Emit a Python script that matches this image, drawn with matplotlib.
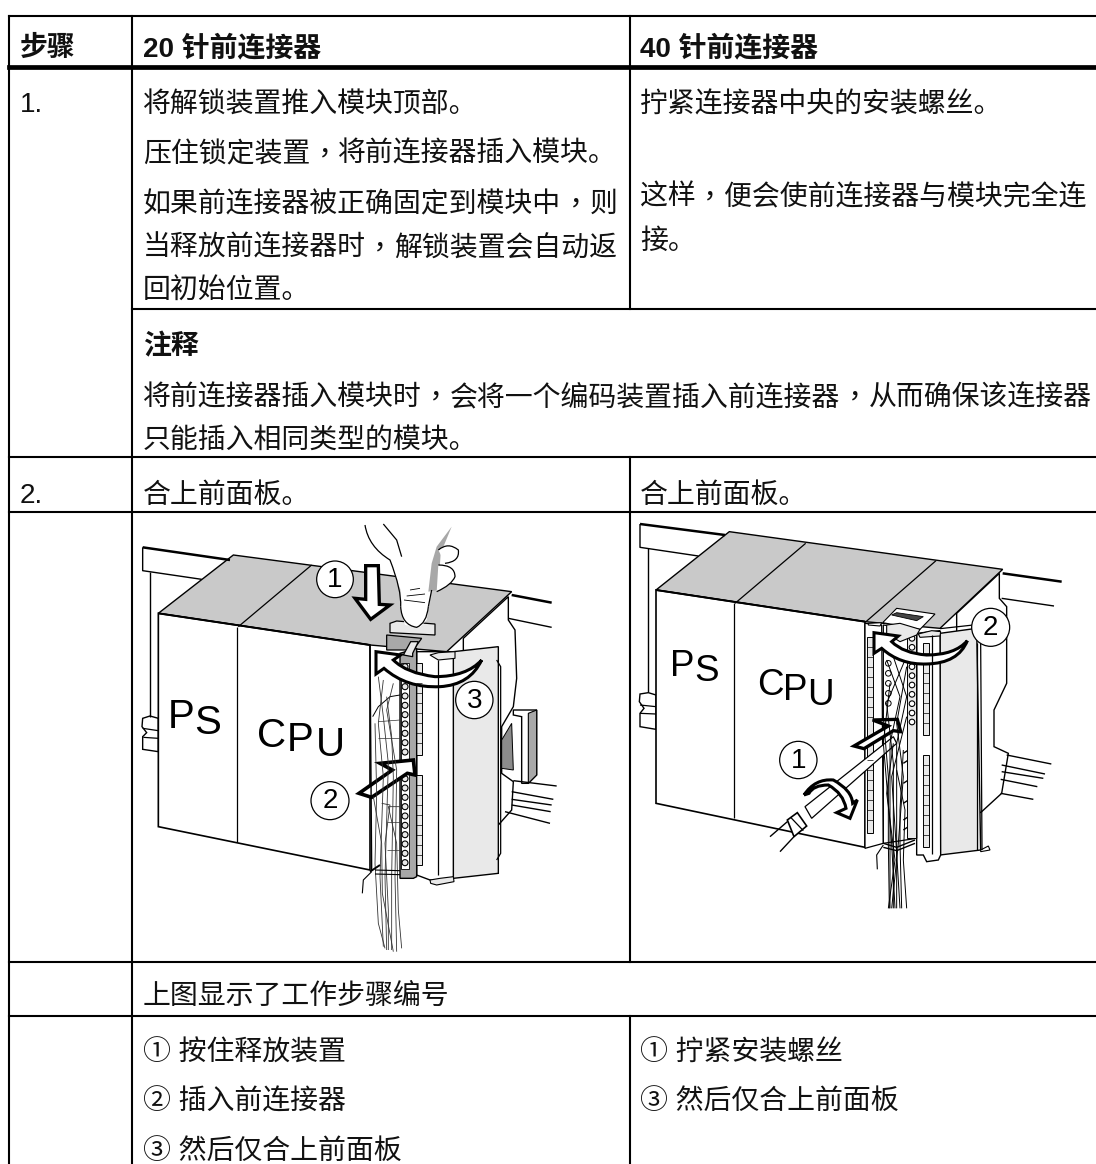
import matplotlib
matplotlib.use("Agg")
import matplotlib.pyplot as plt
from matplotlib.patches import Polygon, Circle, PathPatch
from matplotlib.path import Path

plt.rcParams['font.family'] = ['Liberation Sans', 'Noto Sans CJK SC', 'DejaVu Sans']

# table grid (pixels of the page)
col_x = [9, 132, 630]
top_y = 16
head_y = 66.5
row_full = [457, 512, 962, 1016]
row_note = 309

# table text: x, baseline, text
header = [(20, 56, "步骤"), (143, 56, "20 针前连接器"), (640, 56, "40 针前连接器")]
col0_text = [(20, 112, "1."), (20, 503, "2.")]
col1_text = [
    (143, 112, "将解锁装置推入模块顶部。"),
    (143, 162, "压住锁定装置，将前连接器插入模块。"),
    (143, 212, "如果前连接器被正确固定到模块中，则"),
    (143, 256, "当释放前连接器时，解锁装置会自动返"),
    (143, 299, "回初始位置。"),
    (143, 405, "将前连接器插入模块时，会将一个编码装置插入前连接器，从而确保该连接器"),
    (143, 448, "只能插入相同类型的模块。"),
    (143, 503, "合上前面板。"),
    (143, 1004, "上图显示了工作步骤编号"),
    (143, 1061, "① 按住释放装置"),
    (143, 1109, "② 插入前连接器"),
    (143, 1159, "③ 然后仅合上前面板"),
]
col2_text = [
    (640, 112, "拧紧连接器中央的安装螺丝。"),
    (640, 205, "这样，便会使前连接器与模块完全连"),
    (640, 249, "接。"),
    (640, 503, "合上前面板。"),
    (640, 1061, "① 拧紧安装螺丝"),
    (640, 1109, "③ 然后仅合上前面板"),
]
note_title = (143, 354, "注释")

GRAY = '#c9c9c9'
LIGHT = '#e9e9e9'
MID = '#a8a8a8'
FS = 20.1

fig = plt.figure(figsize=(10.96, 11.64), dpi=100)
ax = fig.add_axes([0, 0, 1, 1])
ax.set_xlim(0, 1096)
ax.set_ylim(1164, 0)
ax.axis('off')


def put(x, y, s, bold=False):
    w = 'bold' if bold else 'normal'
    em = FS * 100 / 72
    parts = s.split("，")
    for i, p in enumerate(parts):
        ax.text(x, y, p, fontsize=FS, fontweight=w, va='baseline', color='#111111')
        x += len(p) * em
        if i < len(parts) - 1:
            # the source uses a centred full-width comma
            ax.text(x, y, "，", fontsize=FS, va='baseline', color='#111111',
                    family=['Noto Sans CJK TC'])
            x += em


for x, y, s in header:
    put(x, y, s, True)
put(*note_title, True)
for x, y, s in col0_text + col1_text + col2_text:
    put(x, y, s)

# grid
ax.plot([col_x[0], 1096], [top_y, top_y], color='k', lw=1.5)
ax.plot([col_x[0], 1096], [head_y, head_y], color='k', lw=3.4)
for y in row_full:
    ax.plot([col_x[0], 1096], [y, y], color='k', lw=1.5)
ax.plot([col_x[1], 1096], [row_note, row_note], color='k', lw=1.5)
ax.plot([col_x[0], col_x[0]], [top_y, 1164], color='k', lw=1.5)
ax.plot([col_x[1], col_x[1]], [top_y, 1164], color='k', lw=1.5)
ax.plot([col_x[2], col_x[2]], [top_y, row_note], color='k', lw=1.5)
ax.plot([col_x[2], col_x[2]], [row_full[0], row_full[2]], color='k', lw=1.5)
ax.plot([col_x[2], col_x[2]], [row_full[3], 1164], color='k', lw=1.5)


class Sketch:

    def __init__(self, ox, oy):
        self.ox, self.oy = ox, oy

    def xy(self, pts):
        return [(self.ox + a / 3, self.oy + b / 3) for a, b in pts]

    def poly(self, pts, fc='white', lw=1.0, ec='k'):
        ax.add_patch(Polygon(self.xy(pts), closed=True, fc=fc, ec=ec, lw=lw, joinstyle='miter'))

    def line(self, pts, lw=0.9, color='k'):
        p = self.xy(pts)
        ax.plot([q[0] for q in p], [q[1] for q in p], color=color, lw=lw, solid_capstyle='butt')

    def curve(self, pts, codes, fc='white', lw=2.2):
        verts = self.xy(pts)
        ax.add_patch(PathPatch(Path(verts, codes), fc=fc, ec='k', lw=lw, joinstyle='miter'))

    def circle(self, c, r, fc='white', lw=0.9):
        ax.add_patch(Circle(self.xy([c])[0], r / 3, fc=fc, ec='k', lw=lw, zorder=6))

    def label(self, c, s, size=20):
        p = self.xy([c])[0]
        ax.text(p[0], p[1], s, fontsize=size, ha='center', va='center', color='k', zorder=7)

    def letter(self, c, s, size):
        # c is the left end of the glyph on its baseline
        p = self.xy([c])[0]
        ax.text(p[0], p[1], s, fontsize=size, ha='left', va='baseline', color='k', zorder=7)


M, C3, C4 = Path.MOVETO, Path.CURVE3, Path.LINETO

# ---------- left picture ----------
a = Sketch(130, 510)
a.line([(38, 112), (300, 150)], 1.8)
a.line([(38, 112), (38, 182), (215, 208)], 1.0)
a.line([(60, 185), (60, 620)], 1.0)
a.line([(1145, 255), (1265, 278)], 1.8)
a.line([(1135, 325), (1265, 352)], 1.0)
a.line([(1150, 812), (1280, 828)], 1.0)
a.line([(1145, 845), (1270, 868)], 1.0)
a.line([(1145, 868), (1265, 885)], 1.0)
a.line([(1145, 885), (1262, 905)], 1.0)
a.line([(1125, 905), (1260, 940)], 1.0)
a.poly([(38, 625), (60, 618), (85, 625), (85, 725), (38, 718), (38, 680), (50, 668), (36, 650)])
a.line([(38, 655), (85, 662)], 0.9)
a.line([(40, 682), (85, 685)], 0.9)
a.poly([(85, 310), (310, 135), (1145, 245), (950, 425), (720, 405)], fc=GRAY, lw=1.0)
a.line([(325, 350), (545, 165)], 0.9)
a.line([(85, 310), (720, 405)], 1.4)
a.poly([(85, 310), (720, 405), (720, 1080), (85, 950)], lw=1.2)
a.line([(322, 350), (322, 995)], 0.9)

# right side profile and clip
a.poly([(1000, 385), (1135, 260), (1135, 330), (1155, 360), (1160, 505), (1150, 590), (1115, 650),
        (1115, 790), (1150, 815), (1145, 900), (1105, 945), (1000, 1000)])
a.poly([(1115, 690), (1145, 640), (1150, 780), (1115, 775)], fc='#8c8c8c', lw=0.7)
a.poly([(1150, 600), (1220, 600), (1220, 795), (1195, 820), (1175, 820), (1175, 620), (1150, 615)], lw=1.0)
a.poly([(1195, 610), (1220, 600), (1220, 795), (1195, 820)], fc=MID, lw=0.8)

# door
a.poly([(970, 425), (1105, 410), (1105, 1090), (970, 1105)], fc=LIGHT, lw=1.0)
a.line([(1100, 450), (1112, 470), (1112, 1030), (1100, 1050)], 0.9)
# module body
a.poly([(860, 425), (970, 425), (970, 1100), (960, 1112), (900, 1110), (860, 1095)])
a.line([(925, 450), (925, 1095)], 0.9)
a.poly([(900, 435), (925, 428), (975, 425), (975, 445), (925, 450)], fc=LIGHT, lw=0.8)
a.poly([(900, 1110), (930, 1105), (970, 1100), (972, 1115), (920, 1125), (902, 1120)], fc=LIGHT, lw=0.8)
a.poly([(858, 460), (875, 460), (875, 735), (858, 735)], fc=LIGHT, lw=0.7)
a.poly([(858, 795), (875, 795), (875, 1065), (858, 1065)], fc=LIGHT, lw=0.7)
for y in [490, 520, 550, 580, 610, 640, 670, 700, 825, 855, 885, 915, 945, 975, 1005, 1035]:
    a.line([(858, y), (875, y)], 0.5)

# left edge of connector and wires
a.line([(720, 405), (725, 1080)], 1.0)
a.line([(728, 620), (745, 590), (780, 560), (810, 555)], 0.7)
wires = [
    [(745, 500), (760, 620), (775, 760), (765, 1100), (770, 1320)],
    [(760, 510), (745, 640), (760, 800), (750, 1100), (760, 1310)],
    [(770, 560), (785, 680), (790, 800), (785, 1100), (785, 1320)],
    [(790, 520), (770, 600), (800, 780), (795, 1100), (800, 1325)],
    [(735, 640), (740, 850), (735, 1060), (745, 1240), (765, 1315)],
    [(755, 880), (780, 885), (765, 1000), (775, 1200), (775, 1320)],
    [(810, 890), (775, 890), (800, 1000), (805, 1200), (815, 1315)],
    [(730, 860), (755, 1000), (757, 1150), (790, 1325)],
]
for w in wires:
    a.line(w, 0.6, '#333333')
for w in [[(745, 685), (810, 685)], [(745, 635), (810, 630)], [(770, 1020), (810, 1020)], [(770, 935), (810, 935)]]:
    a.line(w, 0.5, '#333333')
a.line([(720, 1085), (750, 1065)], 1.4)
a.line([(735, 1080), (810, 1082)], 0.8)
a.line([(735, 1092), (810, 1094)], 0.8)
a.line([(725, 1085), (700, 1110), (697, 1150)], 0.8)

# terminal strip
a.poly([(810, 430), (860, 415), (860, 1100), (850, 1105), (810, 1105)], fc=MID, lw=1.0)
a.poly([(812, 460), (838, 460), (838, 1078), (812, 1078)], fc='white', lw=0.6)
for y in [470, 502, 530, 558, 586, 614, 642, 670, 698, 726, 806, 834, 862, 890, 918, 946, 974, 1002, 1030, 1058]:
    ax.add_patch(Circle(a.xy([(825, y)])[0], 3.0, fc=LIGHT, ec='k', lw=0.8))
a.poly([(770, 375), (875, 385), (850, 420), (770, 420)], fc=MID, lw=0.9)
a.poly([(820, 435), (842, 395), (865, 395), (848, 430), (848, 440)], fc=LIGHT, lw=0.9)
a.poly([(780, 340), (800, 333), (915, 342), (915, 375), (780, 368)], fc=LIGHT, lw=0.9)

# finger
a.poly([(705, 45), (720, 110), (780, 160), (812, 240), (812, 300), (825, 345), (870, 352), (890, 330),
        (905, 240), (925, 180), (930, 100), (968, 50)], lw=0, ec='white')
a.curve([(705, 45), (715, 110), (780, 150), (815, 240), (812, 290)], [M, C3, C3, C3, C3], fc='none', lw=0.9)
a.curve([(812, 290), (815, 345), (860, 352), (890, 340), (895, 290)],
        [M, C3, C3, C3, C3], fc='none', lw=0.9)
a.line([(895, 290), (905, 240)], 0.9)
a.line([(760, 42), (800, 90), (815, 140)], 0.9)
a.poly([(920, 110), (965, 50), (932, 130), (925, 240), (895, 245), (905, 160)], fc=MID, lw=0)
a.curve([(925, 120), (955, 95), (985, 120), (990, 155), (945, 160)], [M, C3, C3, C3, C3], fc='white', lw=0.9)
a.curve([(925, 165), (975, 165), (975, 200), (965, 225), (920, 245)], [M, C3, C3, C3, C3], fc='white', lw=0.9)
a.line([(840, 240), (870, 235)], 0.6)
a.line([(830, 258), (885, 252)], 0.6)
a.line([(822, 270), (885, 278)], 0.6)

# arrows
a.poly([(707, 167), (745, 167), (748, 283), (780, 285), (722, 328), (675, 265), (707, 268)], lw=2.4)
a.poly([(687, 850), (787, 780), (750, 760), (850, 750), (855, 795), (832, 790), (725, 862)], lw=2.6)
a.curve([(1055, 450), (1010, 500), (915, 500), (830, 490), (790, 450), (812, 435), (738, 425), (738, 492),
         (762, 475), (830, 535), (930, 530), (1020, 525), (1055, 450)],
        [M, C3, C3, C3, C3, C4, C4, C4, C4, C3, C3, C3, C3], lw=2.2)
a.circle((615, 208), 55)
a.label((615, 210), "1")
a.circle((1033, 570), 56)
a.label((1033, 572), "3")
a.circle((600, 872), 57)
a.label((600, 874), "2")
# letters stay upright and step down along the panel, they are sheared in the source
for c, s in [((112, 655), "P"), ((192, 673), "S"), ((380, 710), "C"), ((470, 722), "P"), ((558, 738), "U")]:
    a.letter(c, s, 29)

# ---------- right picture ----------
b = Sketch(630, 510)
b.line([(30, 42), (285, 75)], 1.8)
b.line([(30, 42), (30, 112), (205, 138)], 1.0)
b.line([(55, 115), (55, 545)], 1.0)
b.line([(1118, 190), (1295, 215)], 1.8)
b.line([(1115, 265), (1272, 288)], 1.0)
b.line([(1130, 735), (1264, 762)], 1.0)
b.line([(1115, 765), (1245, 792)], 1.0)
b.line([(1115, 785), (1240, 805)], 1.0)
b.line([(1112, 808), (1222, 830)], 1.0)
b.line([(1112, 850), (1210, 868)], 1.0)
b.poly([(30, 552), (55, 548), (78, 555), (78, 658), (30, 650), (30, 610), (42, 595), (28, 575)])
b.line([(30, 585), (78, 590)], 0.9)
b.line([(30, 610), (78, 612)], 0.9)
b.poly([(78, 240), (298, 65), (1118, 178), (930, 355), (705, 335)], fc=GRAY, lw=1.0)
b.line([(315, 280), (527, 100)], 0.9)
b.line([(708, 335), (918, 152)], 0.9)
b.line([(78, 240), (705, 335)], 1.4)
b.poly([(78, 240), (705, 335), (705, 1012), (78, 880)], lw=1.2)
b.line([(312, 280), (312, 925)], 0.9)

b.poly([(980, 310), (1108, 190), (1108, 265), (1130, 290), (1130, 520), (1092, 600), (1092, 710),
        (1135, 730), (1115, 850), (1055, 905), (980, 950)])
b.poly([(930, 370), (1040, 355), (1052, 1020), (930, 1035)], fc=LIGHT, lw=1.0)
b.line([(1040, 400), (1040, 1020)], 0.9)
b.line([(1052, 400), (1056, 1020)], 0.9)
b.poly([(1052, 1020), (1075, 1008), (1080, 1020), (1052, 1025)], lw=0.8)
b.poly([(860, 370), (930, 362), (932, 1035), (925, 1050), (890, 1055), (880, 1035), (860, 1035)])
b.poly([(880, 400), (897, 400), (897, 675), (880, 675)], fc=LIGHT, lw=0.7)
b.poly([(880, 735), (897, 735), (897, 1010), (880, 1010)], fc=LIGHT, lw=0.7)
b.line([(905, 375), (905, 1032)], 0.9)
for y in [430, 460, 490, 520, 550, 580, 610, 640, 765, 795, 825, 855, 885, 915, 945, 975]:
    b.line([(880, y), (897, y)], 0.5)

# left part of the open module
b.poly([(705, 340), (755, 345), (760, 1000), (705, 1015)], lw=0.9)
b.poly([(712, 380), (728, 380), (728, 970), (712, 970)], fc=LIGHT, lw=0.7)
for y in [410, 440, 470, 500, 530, 560, 590, 620, 750, 780, 810, 840, 870, 900, 930]:
    b.line([(712, y), (728, y)], 0.5)
b.poly([(760, 345), (860, 360), (860, 985), (760, 1000)], fc='white', lw=0.9)
b.poly([(832, 370), (858, 370), (858, 985), (832, 985)], fc=LIGHT, lw=0.7)
for y in [385, 412, 470, 497, 525, 553, 581, 609, 636]:
    ax.add_patch(Circle(b.xy([(846, y)])[0], 2.8, fc='white', ec='k', lw=0.8))
for y in [460, 490, 520, 550, 580]:
    ax.add_patch(Circle(b.xy([(775, y)])[0], 2.8, fc='white', ec='k', lw=0.7))
# wires
wires_b = [
    [(770, 450), (810, 560), (780, 700), (780, 1000), (780, 1195)],
    [(825, 450), (770, 580), (790, 760), (790, 1000), (790, 1195)],
    [(790, 440), (830, 560), (800, 700), (800, 1000), (800, 1195)],
    [(760, 620), (775, 800), (775, 1000), (778, 1195)],
    [(820, 720), (810, 900), (810, 1000), (815, 1195)],
    [(800, 780), (825, 900), (820, 1050), (830, 1195)],
    [(780, 520), (760, 700), (785, 1000), (795, 1195)],
    [(830, 470), (800, 640), (820, 800), (805, 1000), (785, 1195)],
    [(790, 700), (770, 850), (795, 1050), (775, 1195)],
    [(830, 620), (785, 800), (800, 1030), (810, 1195)],
]
for w in wires_b:
    b.line(w, 0.7)
b.line([(760, 1000), (800, 1012), (855, 990)], 1.0)
b.line([(760, 1012), (800, 1022), (855, 1000)], 1.0)
b.line([(760, 1005), (740, 1035), (742, 1078)], 0.8)
for y in [730, 760, 820, 880, 930, 960]:
    b.line([(820, y), (832, y - 8)], 1.0)

# top plate
b.poly([(758, 338), (800, 295), (915, 312), (870, 358)], lw=0.8)
b.poly([(785, 315), (800, 308), (880, 320), (860, 332)], fc='#444444', lw=0.6)
b.poly([(770, 345), (810, 340), (870, 358), (860, 375), (810, 395), (770, 370)], fc=LIGHT, lw=0.8)
b.poly([(715, 340), (755, 338), (750, 348), (715, 345)], lw=0.8)
b.poly([(865, 372), (905, 362), (932, 365), (930, 378), (870, 382)], fc=LIGHT, lw=0.8)

# arrows
b.curve([(1012, 392), (975, 435), (890, 435), (820, 430), (785, 395), (805, 378), (732, 368), (732, 430),
         (755, 415), (810, 465), (890, 462), (985, 460), (1012, 392)],
        [M, C3, C3, C3, C3, C4, C4, C4, C4, C3, C3, C3, C3], lw=2.2)
b.poly([(672, 708), (775, 648), (728, 630), (802, 628), (812, 665), (790, 662), (702, 716)], lw=2.4)

# screwdriver
b.poly([(525, 890), (790, 680), (800, 700), (545, 925)], lw=0.9)
b.poly([(472, 930), (502, 908), (530, 948), (492, 980)], lw=1.2)
b.line([(482, 922), (520, 962)], 0.9)
b.line([(420, 980), (472, 935)], 1.0)
b.line([(450, 1025), (492, 980)], 1.0)
b.curve([(522, 855), (555, 805), (610, 810), (665, 840), (668, 880), (682, 870), (660, 925), (620, 908),
         (648, 895), (640, 850), (595, 825), (550, 825), (537, 850), (522, 855)],
        [M, C3, C3, C3, C3, C4, C4, C4, C4, C3, C3, C3, C3, C4], lw=2.2)
b.circle((505, 750), 56)
b.label((505, 752), "1")
b.line([(930, 356), (1030, 345)], 0.9)
b.circle((1082, 352), 57)
b.label((1082, 354), "2")
for c, s in [((120, 498), "P"), ((194, 513), "S"), ((382, 556), "C"), ((458, 570), "P"), ((530, 584), "U")]:
    b.letter(c, s, 26.5)

fig.savefig("out.png", dpi=100, facecolor='white')
